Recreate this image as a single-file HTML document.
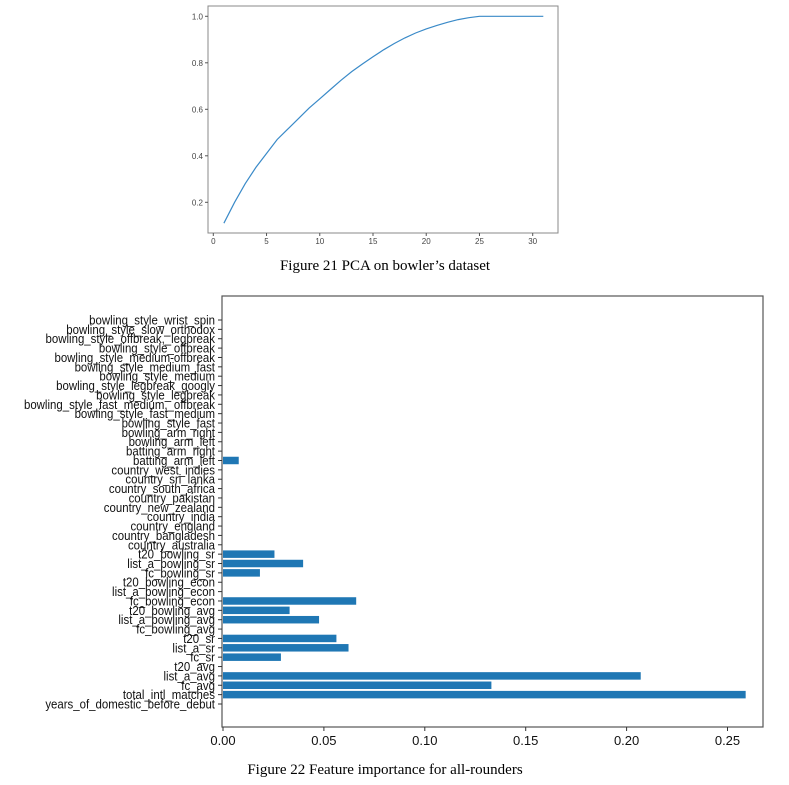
<!DOCTYPE html>
<html><head><meta charset="utf-8"><style>
body{margin:0;background:#fff;width:789px;height:785px;overflow:hidden}
svg{display:block}
</style></head><body>
<svg width="789" height="785" viewBox="0 0 789 785">
<g id="pca"></g>
<text x="385" y="270" text-anchor="middle" font-family="Liberation Serif, serif" font-size="15" fill="#000">Figure 21 PCA on bowler’s dataset</text>
<g id="fi"></g>
<text x="385" y="774" text-anchor="middle" font-family="Liberation Serif, serif" font-size="15" fill="#000">Figure 22 Feature importance for all-rounders</text>
</svg>
<script>
const pcaX=[1,2,3,4,5,6,7,8,9,10,11,12,13,14,15,16,17,18,19,20,21,22,23,24,25,26,27,28,29,30,31];
const pcaY=[0.11,0.20,0.28,0.35,0.41,0.47,0.515,0.56,0.605,0.645,0.685,0.725,0.762,0.795,0.826,0.856,0.883,0.907,0.928,0.946,0.961,0.974,0.986,0.994,1.0,1.0,1.0,1.0,1.0,1.0,1.0];
const pcaXTicks=[0,5,10,15,20,25,30];
const pcaYTicks=[0.2,0.4,0.6,0.8,1.0];

const features=["years_of_domestic_before_debut","total_intl_matches","fc_avg","list_a_avg","t20_avg","fc_sr","list_a_sr","t20_sr","fc_bowling_avg","list_a_bowling_avg","t20_bowling_avg","fc_bowling_econ","list_a_bowling_econ","t20_bowling_econ","fc_bowling_sr","list_a_bowling_sr","t20_bowling_sr","country_australia","country_bangladesh","country_england","country_india","country_new zealand","country_pakistan","country_south africa","country_sri lanka","country_west indies","batting_arm_left","batting_arm_right","bowling_arm_left","bowling_arm_right","bowling_style_fast","bowling_style_fast medium","bowling_style_fast medium, offbreak","bowling_style_legbreak","bowling_style_legbreak googly","bowling_style_medium","bowling_style_medium fast","bowling_style_medium-offbreak","bowling_style_offbreak","bowling_style_offbreak, legbreak","bowling_style_slow orthodox","bowling_style_wrist spin"];
const importance=[0,0.259,0.133,0.207,0,0.0287,0.0622,0.0562,0,0.0476,0.033,0.066,0,0,0.0183,0.0397,0.0255,0,0,0,0,0,0,0,0,0,0.0078,0,0,0,0,0,0,0,0,0,0,0,0,0,0,0];
const fiXTicks=[0,0.05,0.10,0.15,0.20,0.25];

const NS="http://www.w3.org/2000/svg";
function mk(parent,tag,attrs,text){const e=document.createElementNS(NS,tag);for(const k in attrs)e.setAttribute(k,attrs[k]);if(text!==undefined)e.textContent=text;parent.appendChild(e);return e;}

// PCA chart
(function(){
 const g=document.getElementById('pca');
 const L=208,R=558,T=6,B=233;
 const xs=v=>213.3+(v-0)*(532.7-213.3)/30;
 const ys=v=>202.3-(v-0.2)*(202.3-16.3)/0.8;
 const frame=mk(g,'rect',{x:L,y:T,width:R-L,height:B-T,fill:'none',stroke:'#888','stroke-width':1});
 
 
 pcaXTicks.forEach(t=>{
  const l=mk(g,'line',{x1:xs(t),x2:xs(t),y1:B,y2:B+3,stroke:'#555'});
  
  
  const tx=mk(g,'text',{x:xs(t),y:B+11,'text-anchor':'middle','font-family':'Liberation Sans, sans-serif','font-size':8,fill:'#444'},String(t));
  
  
 });
 pcaYTicks.forEach(t=>{
  const l=mk(g,'line',{x1:L-3,x2:L,y1:ys(t),y2:ys(t),stroke:'#555'});
  
  
  const tx=mk(g,'text',{x:L-5,y:ys(t)+3,'text-anchor':'end','font-family':'Liberation Sans, sans-serif','font-size':8,fill:'#444'},t.toFixed(1));
  
  
 });
 const pts=pcaX.map((x,i)=>xs(x).toFixed(1)+','+ys(pcaY[i]).toFixed(1)).join(' ');
 const pl=mk(g,'polyline',{points:pts,fill:'none',stroke:'#3a8ac8','stroke-width':1.2});
 
 
})();

// Feature importance chart
(function(){
 const g=document.getElementById('fi');
 const L=222,R=763,T=296,B=727;
 const xs=v=>223+v*(727.5-223)/0.25;
 const yTop=320,yBot=704;
 const ys=i=>yBot-i*(yBot-yTop)/(features.length-1);
 const step=(yBot-yTop)/(features.length-1);
 const frame=mk(g,'rect',{x:L,y:T,width:R-L,height:B-T,fill:'none',stroke:'#555','stroke-width':1.2});
 
 
 importance.forEach((v,i)=>{
  if(v>0){
   const r=mk(g,'rect',{x:xs(0),y:ys(i)-step*0.4,width:xs(v)-xs(0),height:step*0.8,fill:'#1f77b4'});
   
   
  }
 });
 features.forEach((f,i)=>{
  const l=mk(g,'line',{x1:L-4,x2:L,y1:ys(i),y2:ys(i),stroke:'#333'});
  
  
  const tx=mk(g,'text',{x:L-7,y:ys(i)+4.5,'text-anchor':'end','font-family':'Liberation Sans, sans-serif','font-size':13,fill:'#111',transform:`translate(${(L-7)*0.12},0) scale(0.88,1)`},f.replace(/ /g,'_'));
  tx.setAttribute('x',(L-7));
  
  
 });
 fiXTicks.forEach(t=>{
  const l=mk(g,'line',{x1:xs(t),x2:xs(t),y1:B,y2:B+4,stroke:'#333'});
  
  
  const tx=mk(g,'text',{x:xs(t),y:B+18,'text-anchor':'middle','font-family':'Liberation Sans, sans-serif','font-size':13,fill:'#111'},t.toFixed(2));
  
  
 });
})();
</script>
</body></html>
